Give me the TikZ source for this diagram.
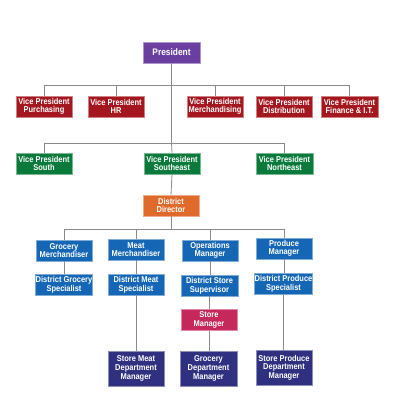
\documentclass[tikz,border=0pt]{standalone}
\usepackage{fontspec}
\setmainfont[FakeStretch=0.88]{Liberation Sans}
\definecolor{cpres}{HTML}{6B3FA0}
\definecolor{cred}{HTML}{A5171F}
\definecolor{cgreen}{HTML}{0A7A3C}
\definecolor{corange}{HTML}{DF6A2C}
\definecolor{cblue}{HTML}{1666B6}
\definecolor{cpink}{HTML}{C5285A}
\definecolor{cnavy}{HTML}{2F3080}
\definecolor{cline}{HTML}{8A8A8A}
\begin{document}
\begin{tikzpicture}[x=1pt,y=-1pt,
  box/.style={draw=#1!55!white, line width=0.5pt, fill=#1, text=white,
    font=\fontsize{8.5}{8.6}\selectfont\bfseries, align=center,
    minimum width=56pt, minimum height=21pt, inner sep=0pt},
  tall/.style={minimum height=35pt},
  conn/.style={draw=cline, line width=0.8pt}]
\useasboundingbox (0,0) rectangle (394,401);
% President
\node[box=cpres, minimum width=57pt] (p) at (171.5,52.5) {\fontsize{9.5}{10}\selectfont President};
% Row 1
\node[box=cred] (vpp) at (44,106.5) {Vice President\\Purchasing};
\node[box=cred] (vph) at (116,106.5) {Vice President\\HR};
\node[box=cred] (vpm) at (215,106.5) {Vice President\\Merchandising};
\node[box=cred] (vpd) at (284,106.5) {Vice President\\Distribution};
\node[box=cred, minimum width=57pt] (vpf) at (349.5,106.5) {Vice President\\Finance \& I.T.};
% Row 2
\node[box=cgreen] (vps) at (44,163.5) {Vice President\\South};
\node[box=cgreen] (vpse) at (172,163.5) {Vice President\\Southeast};
\node[box=cgreen, minimum width=57pt] (vpne) at (284.5,163.5) {Vice President\\Northeast};
% District director
\node[box=corange] (dd) at (171,205.5) {District\\Director};
% Row 3
\node[box=cblue] (gm) at (64,250.5) {Grocery\\Merchandiser};
\node[box=cblue] (mm) at (136,249.5) {Meat\\Merchandiser};
\node[box=cblue] (om) at (210,250.5) {Operations\\Manager};
\node[box=cblue] (pm) at (284,248.5) {Produce\\Manager};
% Row 4
\node[box=cblue] (dgs) at (64,285) {District Grocery\\Specialist};
\node[box=cblue] (dms) at (136,284.5) {District Meat\\Specialist};
\node[box=cblue, minimum width=57pt] (dss) at (209.5,285.5) {District Store\\Supervisor};
\node[box=cblue, minimum width=57pt] (dps) at (283.5,283.5) {District Produce\\Specialist};
% Store manager
\node[box=cpink] (sm) at (209,320) {Store\\Manager};
% Row 5
\node[box=cnavy, tall] (smd) at (136,368.5) {Store Meat\\Department\\Manager};
\node[box=cnavy, tall, minimum width=57pt] (gdm) at (208.5,368.5) {Grocery\\Department\\Manager};
\node[box=cnavy, tall] (spd) at (284,367.5) {Store Produce\\Department\\Manager};
% bars
\coordinate (b1) at (171.5,85);
\coordinate (b2) at (171.5,143);
\coordinate (b3) at (171,229);
% connectors
\draw[conn] (p.south) -- (b1);
\draw[conn] (b1) -| (vpp.north);
\draw[conn] (b1) -| (vph.north);
\draw[conn] (b1) -| (vpm.north);
\draw[conn] (b1) -| (vpd.north);
\draw[conn] (b1) -| (vpf.north);
\draw[conn] (b1) -- (b2);
\draw[conn] (b2) -| (vps.north);
\draw[conn] (b2) -| (vpne.north);
\draw[conn] (b2) -- (vpse.north);
\draw[conn] (vpse.south) -- (dd.north);
\draw[conn] (dd.south) -- (b3);
\draw[conn] (b3) -| (gm.north);
\draw[conn] (b3) -| (mm.north);
\draw[conn] (b3) -| (om.north);
\draw[conn] (b3) -| (pm.north);
\draw[conn] (gm.south) -- (dgs.north);
\draw[conn] (mm.south) -- (dms.north);
\draw[conn] (om.south) -- (om.south|-dss.north);
\draw[conn] (pm.south) -- (pm.south|-dps.north);
\draw[conn] (dms.south) -- (smd.north);
\draw[conn] (dss.south) -- (dss.south|-sm.north);
\draw[conn] (sm.south) -- (sm.south|-gdm.north);
\draw[conn] (dps.south) -- (dps.south|-spd.north);
\end{tikzpicture}
\end{document}
